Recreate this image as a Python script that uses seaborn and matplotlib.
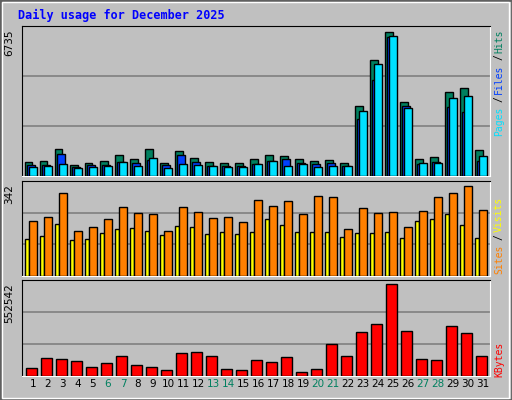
import numpy as np
import pandas as pd
import seaborn as sns
import matplotlib.pyplot as plt
from matplotlib.patches import Rectangle

days = np.arange(1, 32)
hits = [644, 689, 1228, 509, 599, 689, 958, 778, 1228, 599, 1138, 823, 644, 599, 599, 778,
        958, 913, 778, 689, 733, 599, 3203, 5313, 6615, 3382, 778, 868, 3831, 4011, 1182]
files = [509, 509, 1003, 419, 509, 509, 644, 599, 733, 509, 958, 644, 464, 464, 464, 554,
         689, 778, 599, 554, 599, 464, 2619, 4415, 6346, 3203, 554, 644, 3158, 2934, 689]
pages = [419, 464, 554, 374, 419, 464, 644, 464, 823, 374, 554, 509, 464, 419, 419, 554,
         689, 464, 554, 419, 464, 464, 2978, 5134, 6391, 3113, 599, 599, 3562, 3652, 913]
visits = [135, 146, 188, 131, 135, 156, 170, 174, 163, 149, 181, 177, 153, 160, 153, 160,
          206, 185, 160, 160, 160, 142, 156, 156, 160, 138, 199, 206, 224, 185, 138]
sites = [199, 216, 302, 163, 177, 209, 252, 231, 227, 163, 252, 234, 213, 216, 195, 277,
         256, 273, 224, 291, 287, 170, 248, 231, 234, 177, 238, 287, 302, 327, 241]
kbytes = [50400, 110900, 104800, 92700, 56400, 80600, 123000, 68500, 56400, 38300, 141100,
          147200, 123000, 44400, 38300, 98800, 86700, 116900, 26200, 44400, 189500, 123000,
          262100, 310500, 552542, 268100, 104800, 98800, 298400, 256000, 123000]
weekends = [6, 7, 13, 14, 20, 21, 27, 28]

BG = "#C0C0C0"
fig = plt.figure(figsize=(5.12, 4.0), dpi=100, facecolor=BG)
# bevel border
fig.patches.append(Rectangle((0, 0), 1, 1, transform=fig.transFigure, fill=False,
                             edgecolor="#606060", lw=2, zorder=0))
fig.patches.append(Rectangle((0.004, 0.006), 0.99, 0.988, transform=fig.transFigure, fill=False,
                             edgecolor="white", lw=1, zorder=0))
fig.text(18 / 512, 1 - 15 / 400, "Daily usage for December 2025", color="#0000FF",
         fontsize=8.5, fontweight="bold", family="DejaVu Sans Mono", va="center")

left, width = 22 / 512, 468 / 512
panels = [
    (26, 176, 6870, "6735", [(hits, -0.28, 0.5, "#00805F"), (files, -0.13, 0.5, "#0040FF"),
                             (pages, 0.0, 0.5, "#00E0FF")]),
    (181, 276, 346, "342", [(visits, -0.39, 0.29, "#FFFF00"), (sites, 0.0, 0.49, "#FF8000")]),
    (280, 376, 577000, "552542", [(kbytes, -0.11, 0.71, "#FF0000")]),
]
axes = []
for top, bot, ymax, lab, series in panels:
    ax = fig.add_axes([left, 1 - bot / 400, width, (bot - top) / 400])
    ax.set_facecolor(BG)
    for vals, off, w, col in series:
        df = pd.DataFrame({"x": days + off, "y": vals})
        sns.barplot(data=df, x="x", y="y", native_scale=True, width=w, color=col,
                    edgecolor="black", linewidth=1, saturation=1, ax=ax, zorder=3)
    ax.set_xlim(0.27, 31.47)
    ax.set_ylim(0, ymax)
    ax.set_yticks([ymax / 3, 2 * ymax / 3])
    ax.yaxis.grid(True, color="#808080", lw=1.2, zorder=0)
    ax.set_axisbelow(True)
    ax.tick_params(length=0, labelleft=False, labelbottom=False)
    ax.set_xlabel("")
    ax.set_ylabel("")
    for s in ax.spines.values():
        s.set_color("black")
    ax.spines["bottom"].set_color("white")
    ax.spines["right"].set_color("white")
    fig.text(9 / 512, 1 - (top + 3) / 400, lab, rotation=90, va="top", ha="center",
             fontsize=7.5, family="DejaVu Sans")
    axes.append(ax)

# day labels
for d in days:
    axes[2].text(d, -0.03, str(d), transform=axes[2].get_xaxis_transform(), ha="center",
                 va="top", fontsize=7.5, family="DejaVu Sans",
                 color="#00805F" if d in weekends else "black")

def side_label(y_bottom, parts):
    y = y_bottom
    for txt, col in parts:
        fig.text(499 / 512, 1 - y / 400, txt, rotation=90, color=col, ha="center",
                 va="bottom", fontsize=7, family="DejaVu Sans Mono")
        y -= len(txt) * 6.6 + 1

side_label(136, [("Pages", "#00E0FF"), ("/", "black"), ("Files", "#0040FF"), ("/", "black"),
                 ("Hits", "#00805F")])
side_label(274, [("Sites", "#FF8000"), ("/", "black"), ("Visits", "#FFFF00")])
side_label(377, [("KBytes", "#FF0000")])

fig.savefig("out.png", dpi=100, facecolor=BG)
